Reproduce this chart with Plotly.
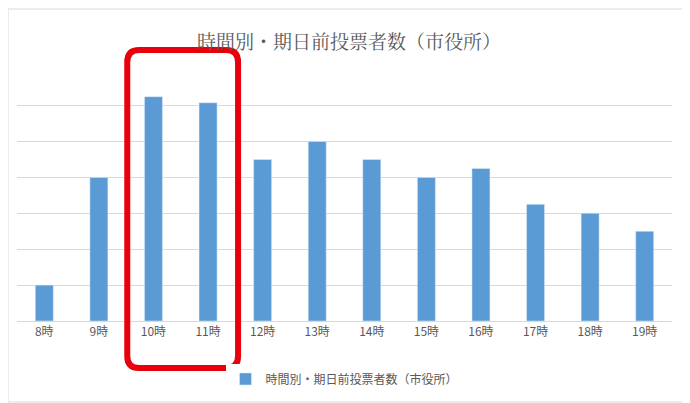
import plotly.graph_objects as go

hours = ["8時", "9時", "10時", "11時", "12時", "13時", "14時", "15時", "16時", "17時", "18時", "19時"]
voters = [1, 4, 6.25, 6.08, 4.5, 5, 4.5, 4, 4.25, 3.25, 3, 2.5]
series_name = "時間別・期日前投票者数（市役所）"

fig = go.Figure(go.Bar(x=hours, y=voters, name=series_name, marker_color="#5B9BD5"))

# rounded red box around 10時-11時
x0, x1, yt, yb = 1.52, 3.55, 1.075, -0.187
rx, ry = 0.22, 0.048
path = (f"M {x0+rx},{yt} L {x1-rx},{yt} Q {x1},{yt} {x1},{yt-ry} "
        f"L {x1},{yb+ry} Q {x1},{yb} {x1-rx},{yb} L {x0+rx},{yb} "
        f"Q {x0},{yb} {x0},{yb+ry} L {x0},{yt-ry} Q {x0},{yt} {x0+rx},{yt} Z")
fig.add_shape(type="path", path=path, xref="x", yref="paper",
              line=dict(color="#E8000B", width=6))
# outer chart frame
fig.add_shape(type="rect", xref="paper", yref="paper", x0=-9 / 655, x1=672 / 655,
              y0=-81 / 252, y1=1 + 60 / 252, line=dict(color="#D9D9D9", width=1))

fig.update_layout(
    width=682, height=395,
    title=dict(text=series_name, x=0.5, y=0.93, xanchor="center",
               font=dict(size=19, color="#595959", family="Noto Serif CJK JP, Noto Sans CJK JP")),
    font=dict(family="Noto Sans CJK JP", color="#595959", size=12),
    margin=dict(l=9, r=18, t=61, b=82),
    plot_bgcolor="white", paper_bgcolor="white",
    bargap=0.67,
    showlegend=True,
    legend=dict(orientation="h", x=0.5, xanchor="center", y=-0.23, yanchor="middle",
                font=dict(size=12), itemwidth=30),
    xaxis=dict(range=[-0.5, 11.5], showline=True, linecolor="#D9D9D9", ticks=""),
    yaxis=dict(range=[0, 7.02], dtick=1, showticklabels=False, gridcolor="#D9D9D9",
               zeroline=False),
)

fig.write_html("out.html")
